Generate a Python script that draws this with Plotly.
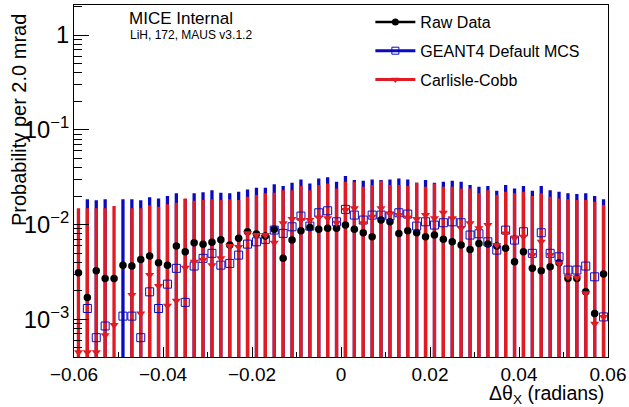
import plotly.graph_objects as go

# ---- data ----
bin_width = 0.002
bin_centers = [round(-0.059 + bin_width * i, 4) for i in range(60)]

raw_data = [0.0031, 0.0017, 0.00325, 0.0027, 0.0027, 0.00373, 0.00365, 0.00429, 0.00465, 0.00395,
            0.00373, 0.00593, 0.00516, 0.00642, 0.00618, 0.0065, 0.0069, 0.00607, 0.00715, 0.0084,
            0.00794, 0.00756, 0.0089, 0.0044, 0.00686, 0.0086, 0.00934, 0.0089, 0.00912, 0.00912,
            0.00988, 0.0089, 0.0082, 0.00743, 0.01116, 0.0107, 0.00807, 0.0086, 0.0082, 0.00743,
            0.00775, 0.00698, 0.00658, 0.00607, 0.00547, 0.00633, 0.00622, 0.00593, 0.00561, 0.00405,
            0.00516, 0.00345, 0.00325, 0.00358, 0.00395, 0.0027, 0.0027, 0.00195, 0.00115, 0.003]

geant4_mcs = [None, 0.0013, 0.00064, 0.00085, None, 0.00108, 0.00108, 0.00064, 0.00195, 0.0013,
              0.00235, 0.00345, 0.00151, 0.00365, 0.0044, 0.00497, 0.00373, 0.00389, 0.00476, 0.00622,
              0.00658, 0.00698, 0.00875, 0.00807, 0.00948, 0.0123, 0.00964, 0.01332, 0.01398, 0.0107,
              0.01447, 0.0126, 0.01116, 0.0126, 0.0126, 0.0123, 0.01332, 0.01291, 0.00964, 0.0107,
              0.00988, 0.01045, 0.0107, 0.01045, 0.00775, 0.0080, 0.00658, 0.00538, 0.00875, 0.00686,
              0.0084, 0.00497, 0.0082, 0.00497, 0.00457, 0.00331, 0.00331, 0.00365, 0.00281, 0.00106]

geant4_err_top = [None, 0.0185, 0.0181, 0.0185, None, 0.0185, 0.0185, 0.0181, 0.0194, 0.0189,
                  0.0200, 0.0214, 0.0186, 0.0214, 0.0219, 0.0231, 0.0217, 0.0214, 0.0222, 0.0235,
                  0.0245, 0.0245, 0.0266, 0.0255, 0.0276, 0.0300, 0.0272, 0.0307, 0.0315, 0.0283,
                  0.0325, 0.0295, 0.0290, 0.0300, 0.0295, 0.0300, 0.0307, 0.0300, 0.0276, 0.0295,
                  0.0276, 0.0283, 0.0290, 0.0283, 0.0261, 0.0251, 0.0255, 0.0228, 0.0261, 0.0241,
                  0.0255, 0.0228, 0.0255, 0.0231, 0.0222, 0.0214, 0.0210, 0.0214, 0.0200, 0.0185]

carlisle_cobb = [0.00045, 0.00045, 0.00045, 0.00068, 0.00087, None, 0.0018, 0.00115, 0.00293, 0.00224,
                 0.00139, 0.00157, 0.0035, 0.00405, 0.00422, 0.00373, 0.0044, 0.00593, 0.0058, 0.0081,
                 0.00775, 0.00775, 0.00642, 0.0103, 0.01143, 0.01116, 0.01116, 0.01191, 0.01163, 0.01045,
                 0.01423, 0.01483, 0.0103, 0.01209, 0.01483, 0.01291, 0.0126, 0.01191, 0.01143, 0.0126,
                 0.01163, 0.01332, 0.01163, 0.00912, 0.0103, 0.00912, 0.00988, 0.00607, 0.00807, 0.00715,
                 0.00743, 0.00476, 0.00658, 0.00476, 0.00389, 0.00281, 0.00277, 0.00188, 0.0009, 0.00106]

carlisle_cobb_err_top = [0.01483, 0.01483, 0.01483, 0.01483, 0.01568, None, 0.01483, 0.01483, 0.01595, 0.01542,
                         0.01634, 0.0170, 0.0189, 0.01784, 0.01814, 0.0185, 0.01814, 0.0185, 0.01814, 0.0197,
                         0.0205, 0.0214, 0.0217, 0.0231, 0.0231, 0.0255, 0.0231, 0.0261, 0.0272, 0.0241,
                         0.0283, 0.0283, 0.0251, 0.0261, 0.0290, 0.0261, 0.0261, 0.0255, 0.0276, 0.0251,
                         0.0272, 0.0251, 0.0251, 0.0241, 0.0241, 0.0214, 0.0231, 0.0205, 0.0222, 0.0214,
                         0.0222, 0.0200, 0.0214, 0.0197, 0.0189, 0.0185, 0.01814, 0.01814, 0.0174, 0.01607]

series_names = ["Raw Data", "GEANT4 Default MCS", "Carlisle-Cobb"]
x_tick_vals = [-0.06, -0.04, -0.02, 0, 0.02, 0.04, 0.06]
x_tick_text = ["\u22120.06", "\u22120.04", "\u22120.02", "0", "0.02", "0.04", "0.06"]

BLACK = "#000000"
BLUE = "#0a0ac0"
RED = "#e01b22"
FONT = "Liberation Sans, Arial, sans-serif"


def up_err(vals, tops):
    return [None if (v is None or t is None) else t - v for v, t in zip(vals, tops)]


fig = go.Figure()

# error bars (drawn first, red over blue)
fig.add_trace(go.Scatter(
    x=bin_centers, y=geant4_mcs, mode="markers",
    marker=dict(size=1, color="rgba(0,0,0,0)"),
    error_y=dict(type="data", symmetric=False, array=up_err(geant4_mcs, geant4_err_top),
                 arrayminus=geant4_mcs, color=BLUE, thickness=3.3, width=0),
    showlegend=False, hoverinfo="skip"))
fig.add_trace(go.Scatter(
    x=bin_centers, y=carlisle_cobb, mode="markers",
    marker=dict(size=1, color="rgba(0,0,0,0)"),
    error_y=dict(type="data", symmetric=False, array=up_err(carlisle_cobb, carlisle_cobb_err_top),
                 arrayminus=carlisle_cobb, color=RED, thickness=3.3, width=0),
    showlegend=False, hoverinfo="skip"))

# markers
fig.add_trace(go.Scatter(
    x=bin_centers, y=raw_data, mode="markers",
    marker=dict(symbol="circle", size=7.5, color=BLACK),
    error_x=dict(type="constant", value=0.0005, color=BLACK, thickness=1.5, width=0),
    showlegend=False))
fig.add_trace(go.Scatter(
    x=bin_centers, y=geant4_mcs, mode="markers",
    marker=dict(symbol="square-open", size=8, color=BLUE, line=dict(width=1, color=BLUE)),
    showlegend=False))
fig.add_trace(go.Scatter(
    x=bin_centers, y=carlisle_cobb, mode="markers",
    marker=dict(symbol="triangle-down", size=8, color=RED),
    showlegend=False))

# legend entries
legend_styles = [
    dict(line=dict(color=BLACK, width=2.5), marker=dict(symbol="circle", size=7, color=BLACK)),
    dict(line=dict(color=BLUE, width=3), marker=dict(symbol="square-open", size=7, color=BLUE)),
    dict(line=dict(color=RED, width=3), marker=dict(symbol="triangle-down", size=7, color=RED)),
]
for i, (name, sty) in enumerate(zip(series_names, legend_styles)):
    fig.add_trace(go.Scatter(x=[None], y=[None], mode="lines+markers", name=name,
                             legendgroup=f"g{i}", **sty))

fig.update_layout(
    template="none",
    width=629, height=407,
    margin=dict(l=74, r=21, t=5, b=50, autoexpand=False),
    paper_bgcolor="white", plot_bgcolor="white",
    font=dict(family=FONT, color="black"),
    showlegend=True,
    legend=dict(x=0.555, y=1.0, xanchor="left", yanchor="top",
                bgcolor="rgba(255,255,255,0)", borderwidth=0, font=dict(size=16, family=FONT),
                tracegroupgap=5, itemwidth=40),
    xaxis=dict(range=[-0.06, 0.06], showgrid=False, zeroline=False, automargin=False,
               tickmode="array", tickvals=x_tick_vals, ticktext=x_tick_text,
               ticks="inside", ticklen=10, tickcolor="black", tickwidth=1,
               minor=dict(ticks="inside", ticklen=5, dtick=0.01, tickcolor="black", showgrid=False),
               showline=True, linecolor="black", linewidth=1, mirror=True,
               tickfont=dict(size=19)),
    yaxis=dict(type="log", range=[-3.398, 0.318], showgrid=False, zeroline=False, automargin=False,
               dtick=1, exponentformat="power",
               ticks="inside", ticklen=15, tickcolor="black", tickwidth=1,
               minor=dict(ticks="inside", ticklen=8, dtick="D1", tickcolor="black", showgrid=False),
               showline=True, linecolor="black", linewidth=1, mirror=True,
               tickfont=dict(size=19)),
    annotations=[
        dict(text="MICE Internal", xref="paper", yref="paper", x=0.0993, y=0.963,
             xanchor="left", yanchor="middle", showarrow=False, font=dict(size=17)),
        dict(text="LiH, 172, MAUS v3.1.2", xref="paper", yref="paper", x=0.101, y=0.915,
             xanchor="left", yanchor="middle", showarrow=False, font=dict(size=12)),
        dict(text="Probability per 2.0 mrad", xref="paper", yref="paper", x=-0.103, y=0.98,
             xanchor="center", yanchor="top", textangle=-90, showarrow=False, font=dict(size=20)),
        dict(text="\u0394\u03b8<sub>X</sub> (radians)", xref="paper", yref="paper", x=0.996, y=-0.106,
             xanchor="right", yanchor="middle", showarrow=False, font=dict(size=19.5)),
    ],
)

fig.write_html("out.html", config={"displayModeBar": False},
               post_script="document.body.style.margin='0px';")
